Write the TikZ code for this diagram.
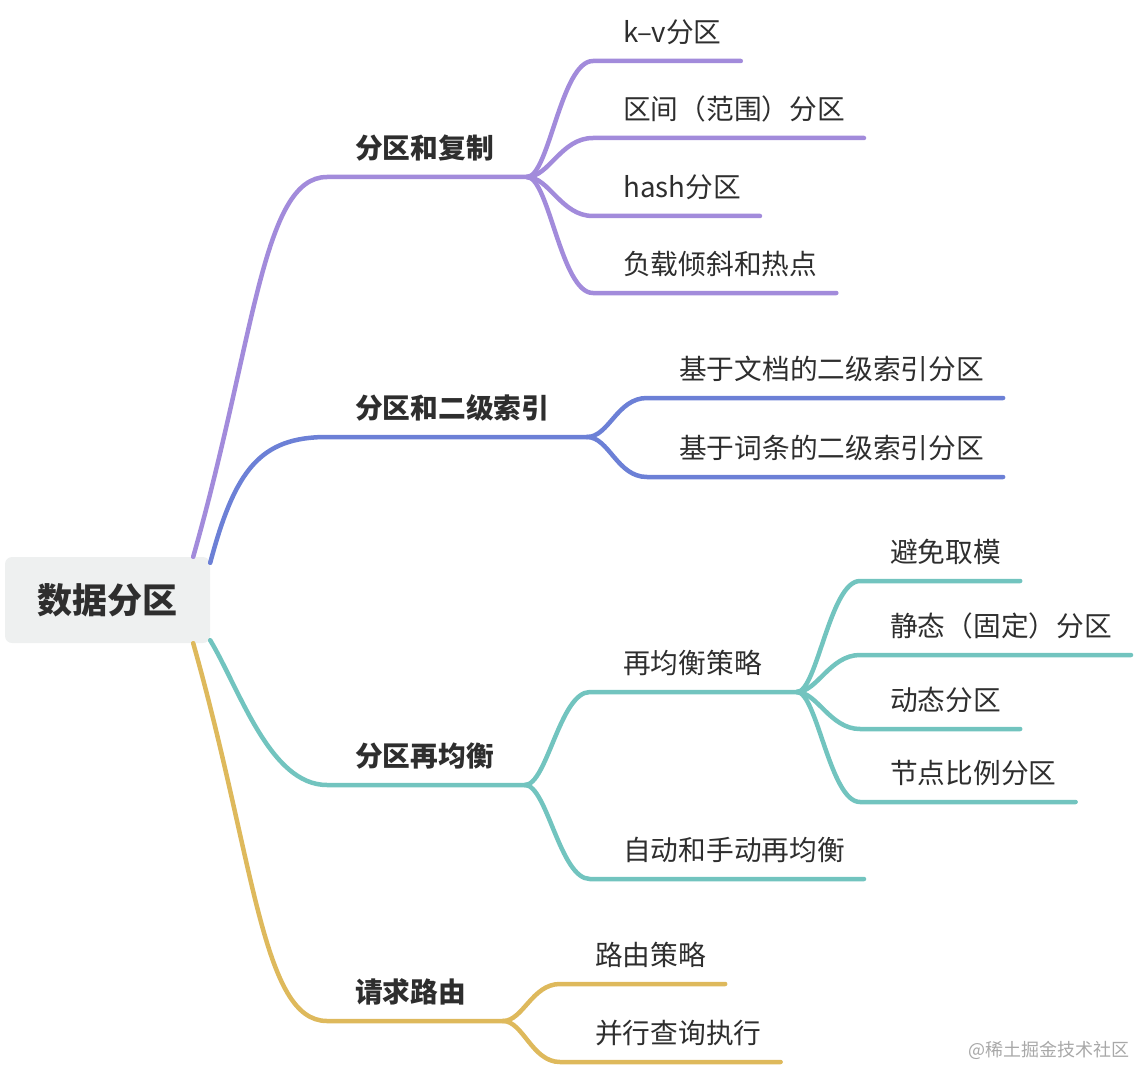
\documentclass[tikz,border=0pt]{standalone}
\usepackage{fontspec}
\setmainfont{Noto Sans CJK SC}
\usepackage{tikz}
\usepackage{xcolor}

\definecolor{mmpurple}{HTML}{A28BDB}
\definecolor{mmblue}{HTML}{6C80D6}
\definecolor{mmteal}{HTML}{72C4BF}
\definecolor{mmgold}{HTML}{DEB95C}
\definecolor{rootfill}{HTML}{EEF0F0}
\definecolor{inkgray}{HTML}{2E2E2E}
\definecolor{markgray}{HTML}{A8A8A8}

\tikzset{
  edge/.style={line width=4.5pt, line cap=round},
  leaf/.style={anchor=south west, inner sep=0pt, text height=20pt, text depth=18pt,
    font=\fontsize{27.7}{30}\selectfont, text=inkgray},
  topic/.style={leaf, font=\fontsize{27.7}{30}\selectfont\bfseries},
  rootbox/.style={fill=rootfill, rounded corners=7pt, minimum width=205pt, minimum height=86pt,
    inner sep=0pt, font=\fontsize{35}{40}\selectfont\bfseries, text=inkgray}
}

\begin{document}
\begin{tikzpicture}[x=1pt,y=1pt]
\useasboundingbox (0,0) rectangle (1134,-1067);

\node[rootbox] (root) at (107.5,-600) {数据分区};

% first level
\node[topic] (t1) at (355,-177) {分区和复制};
\node[topic] (t2) at (355,-437) {分区和二级索引};
\node[topic] (t3) at (355,-785) {分区再均衡};
\node[topic] (t4) at (355,-1021) {请求路由};
\coordinate (j1) at (527,-177);
\coordinate (j2) at (587,-437);
\coordinate (j3) at (525,-785);
\coordinate (j4) at (503,-1021);

\draw[edge, mmpurple] ([xshift=-17pt]root.north east) .. controls (255,-340) and (262,-177) .. ([xshift=-28pt]t1.south west) -- (j1);
\draw[edge, mmblue] ([yshift=-6pt]root.north east) .. controls (235,-470) and (260,-437) .. ([xshift=-28pt]t2.south west) -- (j2);
\draw[edge, mmteal] ([yshift=3pt]root.south east) .. controls (240,-690) and (270,-785) .. ([xshift=-28pt]t3.south west) -- (j3);
\draw[edge, mmgold] ([xshift=-17pt]root.south east) .. controls (255,-862) and (262,-1021) .. ([xshift=-28pt]t4.south west) -- (j4);

% partitioning and replication
\node[leaf] (kv) at (623,-61) {k–v分区};
\node[leaf] (range) at (623,-138) {区间（范围）分区};
\node[leaf] (hash) at (623,-216) {hash分区};
\node[leaf] (skew) at (623,-293) {负载倾斜和热点};
\draw[edge, mmpurple] (j1) .. controls +(22,0) and +(-32,0) .. ([xshift=-30pt]kv.south west) -- ([xshift=19pt]kv.south east);
\draw[edge, mmpurple] (j1) .. controls +(22,0) and +(-32,0) .. ([xshift=-30pt]range.south west) -- ([xshift=19pt]range.south east);
\draw[edge, mmpurple] (j1) .. controls +(22,0) and +(-32,0) .. ([xshift=-30pt]hash.south west) -- ([xshift=19pt]hash.south east);
\draw[edge, mmpurple] (j1) .. controls +(22,0) and +(-32,0) .. ([xshift=-30pt]skew.south west) -- ([xshift=19pt]skew.south east);

% secondary indexes
\node[leaf] (docidx) at (679,-398) {基于文档的二级索引分区};
\node[leaf] (termidx) at (679,-477) {基于词条的二级索引分区};
\draw[edge, mmblue] (j2) .. controls +(22,0) and +(-30,0) .. ([xshift=-32pt]docidx.south west) -- ([xshift=19pt]docidx.south east);
\draw[edge, mmblue] (j2) .. controls +(22,0) and +(-30,0) .. ([xshift=-32pt]termidx.south west) -- ([xshift=19pt]termidx.south east);

% rebalancing
\node[leaf] (strategy) at (623,-692) {再均衡策略};
\node[leaf] (manual) at (623,-879) {自动和手动再均衡};
\coordinate (j5) at (797,-692);
\draw[edge, mmteal] (j3) .. controls +(22,0) and +(-30,0) .. ([xshift=-33pt]strategy.south west) -- (j5);
\draw[edge, mmteal] (j3) .. controls +(22,0) and +(-30,0) .. ([xshift=-33pt]manual.south west) -- ([xshift=19pt]manual.south east);

\node[leaf] (nomod) at (890,-581) {避免取模};
\node[leaf] (fixed) at (890,-655) {静态（固定）分区};
\node[leaf] (dynamic) at (890,-729) {动态分区};
\node[leaf] (pernode) at (890,-802) {节点比例分区};
\draw[edge, mmteal] (j5) .. controls +(20,0) and +(-30,0) .. ([xshift=-30pt]nomod.south west) -- ([xshift=19pt]nomod.south east);
\draw[edge, mmteal] (j5) .. controls +(20,0) and +(-30,0) .. ([xshift=-30pt]fixed.south west) -- ([xshift=19pt]fixed.south east);
\draw[edge, mmteal] (j5) .. controls +(20,0) and +(-30,0) .. ([xshift=-30pt]dynamic.south west) -- ([xshift=19pt]dynamic.south east);
\draw[edge, mmteal] (j5) .. controls +(20,0) and +(-30,0) .. ([xshift=-30pt]pernode.south west) -- ([xshift=19pt]pernode.south east);

% request routing
\node[leaf] (route) at (595,-984) {路由策略};
\node[leaf] (parallel) at (595,-1062) {并行查询执行};
\draw[edge, mmgold] (j4) .. controls +(20,0) and +(-28,0) .. ([xshift=-35pt]route.south west) -- ([xshift=19pt]route.south east);
\draw[edge, mmgold] (j4) .. controls +(20,0) and +(-28,0) .. ([xshift=-35pt]parallel.south west) -- ([xshift=19pt]parallel.south east);

\node[anchor=west, inner sep=0pt, text=markgray, font=\fontsize{18}{20}\selectfont] (mark) at (968,-1050) {@稀土掘金技术社区};
\end{tikzpicture}
\end{document}
